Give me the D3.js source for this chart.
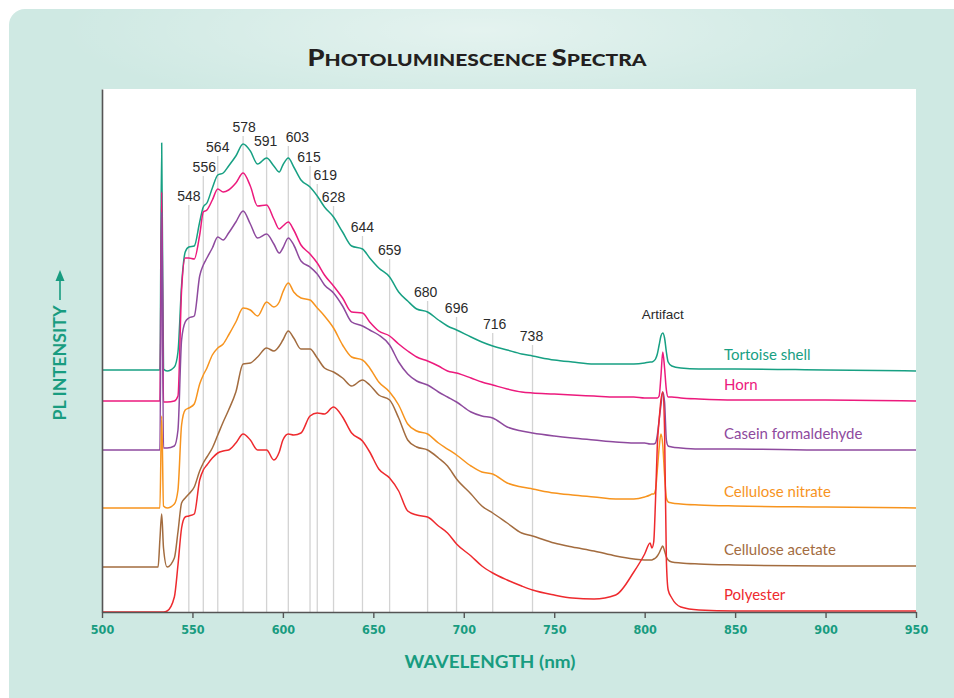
<!DOCTYPE html>
<html>
<head>
<meta charset="utf-8">
<script src="https://cdn.jsdelivr.net/npm/d3@7"></script>
<style>
  html, body { margin: 0; padding: 0; background: #fff; }
  svg { display: block; }
</style>
</head>
<body>
<svg id="chart" width="954" height="698"></svg>
<script>
// Wavelength grid (nm) shared by all spectra
const wavelengths = [500,531,532,533,534,536,540,542,544,546,548,551,554,556,558,561,564,567,570,574,
  578,582,586,591,595,598,600,603,606,610,615,619,623,628,633,638,644,648,653,659,
  664,669,674,680,686,691,696,704,710,716,724,732,738,750,760,772,784,794,800,803,
  804,805,806,807,808,809,810,811,812,813,815,820,830,850,900,950];

// PL intensity (a.u., offset per sample)
const tortoiseShell = [242,242,242,469,243,241,245,260,327,360,365,366,390,405,409,424,437,439,446,456,
  468,461,448,454,446,440,447,454,445,432,425,416,405,395,380,366,363,354,344,335,
  320,311,303,300,292,286,282,275,270,266,262,258,256,252,250,248,248,248,249,250,
  250,251,253,258,267,276,279,274,260,250,246,244,243,243,242,241];
const horn = [211,211,211,420,210,210,211,216,322,354,354,353,377,400,402,412,423,420,422,429,
  439,426,406,407,393,383,386,390,382,367,358,349,337,326,314,300,299,290,281,276,
  268,261,255,251,246,241,239,234,230,227,223,220,219,218,217,216,215,215,214,214,
  214,214,214,214,216,236,260,244,222,215,215,214,213,212,212,211];
const caseinFormaldehyde = [162,162,162,400,164,164,166,182,272,290,294,296,336,347,354,364,375,372,379,390,
  401,388,374,378,368,359,364,374,367,351,345,338,327,319,306,290,286,282,277,267,
  250,238,231,227,220,215,210,200,196,194,185,181,179,176,174,172,170,169,169,168,
  168,168,169,177,192,207,220,210,172,166,165,164,163,163,162,162];
const celluloseNitrate = [104,104,104,196,106,104,108,122,187,202,204,208,228,237,244,257,264,268,277,290,
  304,302,296,310,305,310,320,329,320,314,312,304,296,284,267,255,252,244,230,220,
  207,188,181,178,169,163,157,146,140,138,129,125,123,119,117,115,113,113,115,117,
  118,118,122,142,164,178,167,137,114,110,109,108,107,106,105,104];
const celluloseAcetate = [45,45,72,98,64,45,54,80,109,114,118,125,141,149,155,164,177,190,202,220,
  248,249,255,264,261,266,272,281,274,263,263,254,244,240,234,226,232,227,217,212,
  194,172,165,162,154,146,133,118,106,99,89,79,76,69,65,61,56,53,52,52,
  52,53,54,56,59,63,66,61,55,52,50,49,48,47,46,46];
const polyester = [0,0,0,0,0,1,15,47,84,95,96,98,132,142,147,154,159,161,162,169,
  178,172,162,162,152,160,172,178,177,179,196,199,198,205,195,179,171,160,143,134,
  121,101,97,95,86,79,68,56,46,39,32,26,22,17,14,13,17,40,58,69,
  64,70,112,167,192,212,220,182,52,22,14,5,2,1,1,1];

const seriesNames = ["Tortoise shell", "Horn", "Casein formaldehyde",
  "Cellulose nitrate", "Cellulose acetate", "Polyester"];
const seriesValues = [tortoiseShell, horn, caseinFormaldehyde,
  celluloseNitrate, celluloseAcetate, polyester];
const seriesColors = ["#17a083", "#ec1a7d", "#8e4a9e", "#f7941e", "#a36c3f", "#ee2a2e"];

// Marked emission peaks (nm)
const peakWavelengths = [548,556,564,578,591,603,615,619,628,644,659,680,696,716,738];
const artifactWavelength = 810;
const xTicks = [500,550,600,650,700,750,800,850,900,950];

// Label placement for the peak markers (px)
const peakLabelY  = [196,167,147,127,141,137,157,175,197,227,250,292,308,324,336];
const peakLabelDx = [0,1,0,1,-1,9,-1,8,0,0,0,-2,0,2,-1];

const svg = d3.select("#chart");
const teal = "#189c80";

// Background panel
const defs = svg.append("defs");
const glow = defs.append("radialGradient")
  .attr("id", "headGlow")
  .attr("gradientUnits", "userSpaceOnUse")
  .attr("cx", 480).attr("cy", 30).attr("r", 420)
  .attr("gradientTransform", "translate(0,24) scale(1,0.2)");
glow.append("stop").attr("offset", "0%").attr("stop-color", "#ffffff").attr("stop-opacity", 0.45);
glow.append("stop").attr("offset", "100%").attr("stop-color", "#ffffff").attr("stop-opacity", 0);

svg.append("rect").attr("x", 9).attr("y", 9).attr("width", 960).attr("height", 720)
  .attr("rx", 16).attr("fill", "#cfe9e3");
svg.append("rect").attr("x", 9).attr("y", 9).attr("width", 960).attr("height", 140)
  .attr("rx", 16).attr("fill", "url(#headGlow)");

const plot = { left: 102, right: 916, top: 89, bottom: 612 };
svg.append("rect").attr("x", plot.left).attr("y", plot.top)
  .attr("width", plot.right - plot.left).attr("height", plot.bottom - plot.top)
  .attr("fill", "#fff");

const x = d3.scaleLinear().domain([500, 950]).range([plot.left, plot.right]);
const y = d3.scaleLinear().domain([0, 523]).range([plot.bottom, plot.top]);

// Title in small caps
const title = svg.append("text")
  .attr("x", 477).attr("y", 66)
  .attr("text-anchor", "middle")
  .attr("font-family", "Lato, 'Open Sans', sans-serif")
  .attr("font-weight", 900)
  .attr("fill", "#231f20")
  .attr("textLength", 339).attr("lengthAdjust", "spacingAndGlyphs");
[["P", 22], ["HOTOLUMINESCENCE ", 17], ["S", 22], ["PECTRA", 17]].forEach(([t, s]) => {
  title.append("tspan").attr("font-size", s).text(t);
});

// Peak marker lines and labels
const peaks = svg.append("g");
peakWavelengths.forEach((w, i) => {
  peaks.append("line")
    .attr("x1", x(w)).attr("x2", x(w))
    .attr("y1", peakLabelY[i] + 9).attr("y2", plot.bottom)
    .attr("stroke", "#d3d3d3").attr("stroke-width", 1.3);
  peaks.append("text")
    .attr("x", x(w) + peakLabelDx[i]).attr("y", peakLabelY[i] + 5)
    .attr("text-anchor", "middle")
    .attr("font-family", "'Liberation Sans', Arial, sans-serif")
    .attr("font-size", 14).attr("fill", "#2a2a2a")
    .text(w);
});
svg.append("text")
  .attr("x", x(artifactWavelength)).attr("y", 319)
  .attr("text-anchor", "middle")
  .attr("font-family", "'Liberation Sans', Arial, sans-serif")
  .attr("font-size", 13.5).attr("fill", "#2a2a2a")
  .text("Artifact");

// Spectra
const line = d3.line()
  .x((d, i) => x(wavelengths[i]))
  .y(d => y(d))
  .curve(d3.curveMonotoneX);

const curves = svg.append("g");
seriesValues.forEach((vals, k) => {
  curves.append("path")
    .attr("d", line(vals))
    .attr("fill", "none")
    .attr("stroke", seriesColors[k])
    .attr("stroke-width", 1.5)
    .attr("stroke-linejoin", "round");
});

// Sample names, placed above each trace's right end
seriesNames.forEach((name, k) => {
  const vals = seriesValues[k];
  svg.append("text")
    .attr("x", 724)
    .attr("y", y(vals[vals.length - 1]) - 11)
    .attr("font-family", "Lato, 'Open Sans', sans-serif")
    .attr("font-size", 15)
    .attr("fill", seriesColors[k])
    .text(name);
});

// Axes
const xAxis = svg.append("g")
  .attr("transform", `translate(0,${plot.bottom})`)
  .call(d3.axisBottom(x).tickValues(xTicks).tickSize(6).tickSizeOuter(0).tickPadding(7));
xAxis.select(".domain").attr("stroke", "#555").attr("stroke-width", 1.6);
xAxis.selectAll(".tick line").attr("stroke", "#555").attr("stroke-width", 1.4);
xAxis.selectAll(".tick text")
  .attr("font-family", "'DejaVu Sans Condensed', 'Liberation Sans Narrow', sans-serif")
  .attr("font-weight", "bold")
  .attr("font-size", 12.5)
  .attr("fill", teal);

const yAxis = svg.append("g")
  .attr("transform", `translate(${plot.left},0)`)
  .call(d3.axisLeft(y).tickValues([]).tickSizeOuter(0));
yAxis.select(".domain").attr("stroke", "#555").attr("stroke-width", 1.6);

// Axis titles
svg.append("text")
  .attr("x", 490).attr("y", 668)
  .attr("text-anchor", "middle")
  .attr("font-family", "Lato, 'Open Sans', sans-serif")
  .attr("font-weight", "bold")
  .attr("font-size", 16.5)
  .attr("fill", teal)
  .attr("textLength", 171).attr("lengthAdjust", "spacingAndGlyphs")
  .text("WAVELENGTH (nm)");

svg.append("text")
  .attr("transform", "translate(66,363) rotate(-90)")
  .attr("text-anchor", "middle")
  .attr("font-family", "Lato, 'Open Sans', sans-serif")
  .attr("font-weight", "bold")
  .attr("font-size", 16.5)
  .attr("fill", teal)
  .attr("textLength", 115).attr("lengthAdjust", "spacingAndGlyphs")
  .text("PL INTENSITY");
svg.append("line")
  .attr("x1", 60).attr("x2", 60).attr("y1", 300).attr("y2", 279)
  .attr("stroke", teal).attr("stroke-width", 1.6);
svg.append("path")
  .attr("d", "M55.5,281 L60,270 L64.5,281 Z")
  .attr("fill", teal);
</script>
</body>
</html>
